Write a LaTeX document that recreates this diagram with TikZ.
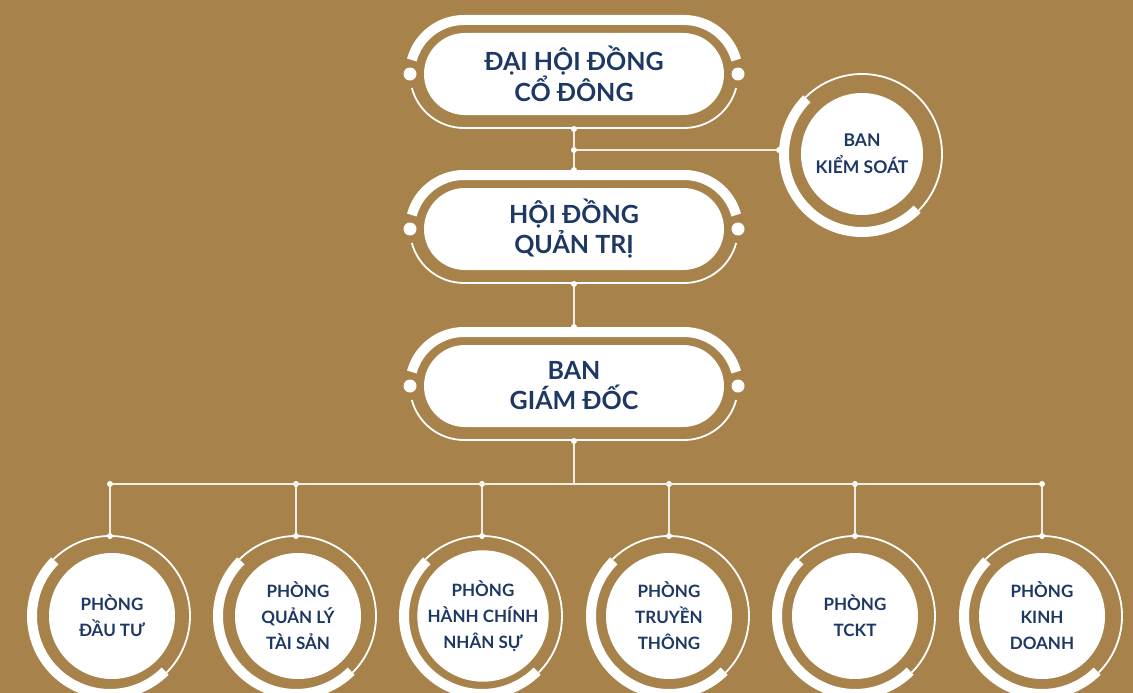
\documentclass[tikz,border=0pt]{standalone}
\usepackage{fontspec}
\setmainfont{Lato}
\usetikzlibrary{shapes.misc}
\definecolor{bgc}{RGB}{168,130,75}
\definecolor{navy}{RGB}{30,56,100}
\newcommand\pilldeco[3]{%
  \draw[band] (#1-110,#2) ++(165:54) arc[start angle=165,end angle=90,radius=54] -- ++(220,0) arc[start angle=90,end angle=15,radius=54];
  \draw[thinring] (#1-110,#2) ++(195:54) arc[start angle=195,end angle=270,radius=54] -- ++(220,0) arc[start angle=270,end angle=345,radius=54];
  \node[bigdot] (#3L) at (#1-164,#2) {};
  \node[bigdot] (#3R) at (#1+164,#2) {};
  \node[dot] (#3B) at (#1,#2-55) {};
}
\newcommand\ringdeco[3]{%
  \draw[thinring] (#1,#2) ++(-45:80) arc[start angle=-45,end angle=135,radius=80];
  \draw[band] (#1,#2) ++(135:78) arc[start angle=135,end angle=315,radius=78];
}
\begin{document}
\begin{tikzpicture}[x=1pt,y=1pt,
  band/.style={draw=white,line width=10pt},
  thinring/.style={draw=white,line width=1.8pt},
  conn/.style={draw=white!85!bgc,line width=1.5pt},
  dot/.style={circle,fill=white,inner sep=0pt,minimum size=6pt},
  bigdot/.style={circle,fill=white,inner sep=0pt,minimum size=13pt},
  pill/.style={rounded rectangle,fill=white,minimum width=300pt,minimum height=82pt,inner sep=0pt,text=navy,align=center,font=\fontsize{25}{30}\selectfont\bfseries},
  disc/.style={circle,fill=white,minimum size=126pt,inner sep=0pt,text=navy,align=center,font=\fontsize{17}{26}\selectfont\bfseries},
  smalldisc/.style={disc,minimum size=122pt}]
\fill[bgc] (0,0) rectangle (1133,-693);
\useasboundingbox (0,0) rectangle (1133,-693);

% pills
\pilldeco{574}{-74}{dh}
\node[pill] (dhcd) at (574,-74) {ĐẠI HỘI ĐỒNG\\CỔ ĐÔNG};
\pilldeco{574}{-229}{hd}
\node[dot] (hdT) at (574,-170) {};
\node[pill] (hdqt) at (574,-229) {HỘI ĐỒNG\\QUẢN TRỊ};
\pilldeco{574}{-386}{bg}
\node[dot] (bgT) at (574,-327) {};
\node[pill] (bgd) at (574,-386) {BAN\\GIÁM ĐỐC};

% ban kiem soat
\ringdeco{862}{-154}{ks}
\node[smalldisc,font=\fontsize{17.5}{27}\selectfont\bfseries] (bks) at (862,-154) {BAN\\KIỂM SOÁT};
\node[dot] (ksL) at (779,-150) {};
\node[dot] (j1) at (574,-150) {};
\draw[conn] (dhB) -- (j1) -- (hdT);
\draw[conn] (j1) -- (ksL);
\draw[conn] (hdB) -- (bgT);

% bus
\coordinate (jb) at (574,-484);
\draw[conn] (bgB) -- (jb);
\foreach \i/\x in {1/110,2/296,3/482,4/669,5/855,6/1042}{
  \node[dot] (b\i) at (\x,-484) {};
  \node[dot] (t\i) at (\x,-536) {};
  \draw[conn] (b\i) -- (t\i);
}
\draw[conn] (b1) -- (b6);

\foreach \i/\x in {1/110,2/296,3/482,4/669,5/855,6/1042}{
  \ringdeco{\x}{-616}{r\i}
}
\node[disc] (p1) at (112,-616) {PHÒNG\\ĐẦU TƯ};
\node[disc] (p2) at (298,-616) {PHÒNG\\QUẢN LÝ\\TÀI SẢN};
\node[disc] (p3) at (483,-616) {PHÒNG\\HÀNH CHÍNH\\NHÂN SỰ};
\node[disc] (p4) at (669,-616) {PHÒNG\\TRUYỀN\\THÔNG};
\node[disc] (p5) at (855,-616) {PHÒNG\\TCKT};
\node[disc] (p6) at (1042,-616) {PHÒNG\\KINH\\DOANH};
\end{tikzpicture}
\end{document}
